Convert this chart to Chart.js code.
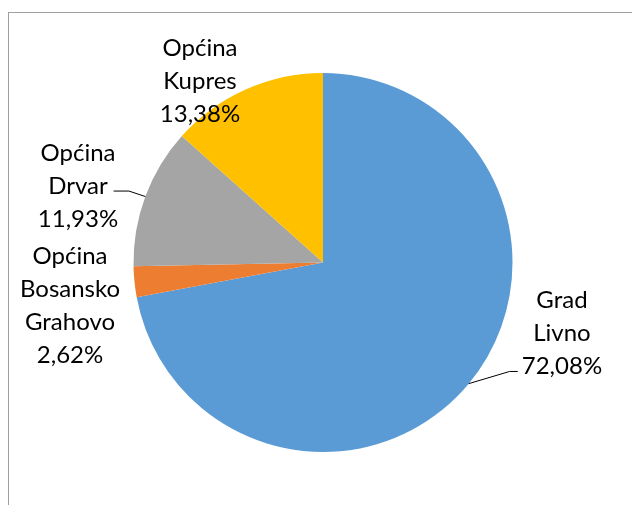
<!DOCTYPE html>
<html>
<head>
<meta charset="utf-8">
<script src="https://cdn.jsdelivr.net/npm/chart.js@4.4.1/dist/chart.umd.min.js"></script>
<style>
  html, body { margin: 0; padding: 0; background: #fff; }
  #wrap { position: relative; width: 632px; height: 505px; overflow: hidden; }
  canvas { display: block; }
</style>
</head>
<body>
<div id="wrap"><canvas id="c" width="632" height="505"></canvas></div>
<script>
// ---- data ----
const categories = ['Grad Livno', 'Općina Bosansko Grahovo', 'Općina Drvar', 'Općina Kupres'];
const labelLines = [['Grad', 'Livno'], ['Općina', 'Bosansko', 'Grahovo'], ['Općina', 'Drvar'], ['Općina', 'Kupres']];
const values = [72.08, 2.62, 11.93, 13.38];
const percentLabels = ['72,08%', '2,62%', '11,93%', '13,38%'];
const colors = ['#5B9BD5', '#ED7D31', '#A5A5A5', '#FFC000'];

// ---- label layout (offsets relative to pie center, in radius units) ----
const labelCenters = [[1.261, 0.372], [-1.335, 0.230], [-1.293, -0.404], [-0.649, -0.958]];
// leader lines: [elbow, end] relative to center in radius units; null = none
const leaders = [
  [[0.985, 0.575], [1.028, 0.575]],
  null,
  [[-1.024, -0.377], [-1.105, -0.377]],
  null
];
const FONT = '24px Lato';
const LINE_H = 33;

const labelPlugin = {
  id: 'sliceLabels',
  beforeDraw(chart) {
    const ctx = chart.ctx;
    ctx.save();
    ctx.strokeStyle = '#A0A0A0';
    ctx.lineWidth = 1;
    ctx.strokeRect(8.5, 12.5, 800, 700);
    ctx.restore();
  },
  afterDatasetsDraw(chart) {
    const ctx = chart.ctx;
    const meta = chart.getDatasetMeta(0);
    ctx.save();
    meta.data.forEach((arc, i) => {
      const cx = arc.x, cy = arc.y, r = arc.outerRadius;
      const mid = (arc.startAngle + arc.endAngle) / 2;
      const lines = labelLines[i].concat([percentLabels[i]]);
      const lx = cx + labelCenters[i][0] * r;
      const ly = cy + labelCenters[i][1] * r;
      ctx.font = FONT;
      ctx.fillStyle = '#000';
      ctx.textAlign = 'center';
      ctx.textBaseline = 'middle';
      const top = ly - (lines.length - 1) * LINE_H / 2;
      lines.forEach((t, k) => ctx.fillText(t, lx, top + k * LINE_H));
      if (leaders[i]) {
        ctx.beginPath();
        ctx.strokeStyle = '#000';
        ctx.lineWidth = 1;
        ctx.moveTo(cx + Math.cos(mid) * r, cy + Math.sin(mid) * r);
        leaders[i].forEach(p => ctx.lineTo(cx + p[0] * r, cy + p[1] * r));
        ctx.stroke();
      }
    });
    ctx.restore();
  }
};

new Chart(document.getElementById('c'), {
  type: 'pie',
  data: {
    labels: categories,
    datasets: [{
      data: values,
      backgroundColor: colors,
      borderWidth: 0
    }]
  },
  options: {
    responsive: false,
    animation: false,
    layout: { padding: { left: 123, right: 109, top: 73, bottom: 53 } },
    plugins: { legend: { display: false }, tooltip: { enabled: false } }
  },
  plugins: [labelPlugin]
});
</script>
</body>
</html>
